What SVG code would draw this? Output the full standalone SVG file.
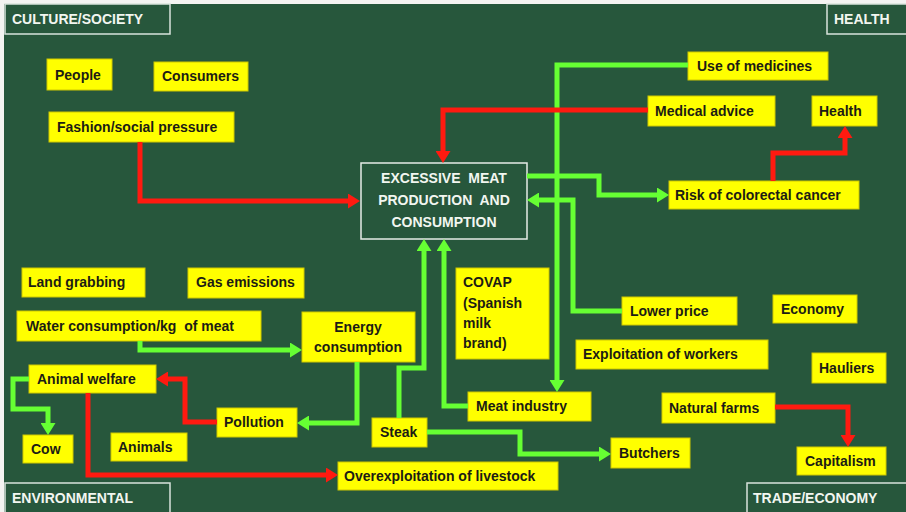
<svg xmlns="http://www.w3.org/2000/svg" width="906" height="512" viewBox="0 0 906 512">
  <style>
    .bg { fill: #27573c; }
    .node rect { fill: #ffff00; stroke: #cfc800; stroke-width: 1; }
    .node text { font-family: "Liberation Sans", Arial, sans-serif; font-weight: bold; font-size: 14px; fill: #1c1c14; }
    .corner rect { fill: #27573c; stroke: #d9e3dc; stroke-width: 1.5; }
    .corner text, .core text { font-family: "Liberation Sans", Arial, sans-serif; font-weight: bold; font-size: 14px; fill: #f2f6f0; }
    .core rect { fill: #27573c; stroke: #e6ece6; stroke-width: 1.5; }
    .red { fill: none; stroke: #ff1a10; stroke-width: 5; marker-end: url(#headRed); }
    .lime { fill: none; stroke: #66ff33; stroke-width: 5; marker-end: url(#headLime); }
  </style>
  <defs>
    <marker id="headRed" markerUnits="userSpaceOnUse" markerWidth="12" markerHeight="15" refX="4" refY="7.5" orient="auto">
      <path d="M0,0 L12,7.5 L0,15 z" fill="#ff1a10"/>
    </marker>
    <marker id="headLime" markerUnits="userSpaceOnUse" markerWidth="12" markerHeight="15" refX="4" refY="7.5" orient="auto">
      <path d="M0,0 L12,7.5 L0,15 z" fill="#66ff33"/>
    </marker>
  </defs>

  <!-- board -->
  <rect x="0" y="0" width="906" height="512" fill="#f4f4f2"/>
  <rect class="bg" x="4" y="4" width="902" height="508"/>

  <!-- quadrant labels -->
  <g id="label-culture" class="corner"><rect x="5" y="4" width="165" height="30"/><text x="12" y="24">CULTURE/SOCIETY</text></g>
  <g id="label-health" class="corner"><rect x="827" y="4" width="82" height="30"/><text x="834" y="24">HEALTH</text></g>
  <g id="label-environmental" class="corner"><rect x="5" y="483" width="165" height="32"/><text x="12" y="503">ENVIRONMENTAL</text></g>
  <g id="label-trade" class="corner"><rect x="747" y="483" width="162" height="32"/><text x="753" y="503">TRADE/ECONOMY</text></g>

  <!-- central issue -->
  <g id="excessive-meat" class="core">
    <rect x="361" y="163" width="166" height="76"/>
    <text x="444" y="183" text-anchor="middle" xml:space="preserve">EXCESSIVE  MEAT</text>
    <text x="444" y="205" text-anchor="middle" xml:space="preserve">PRODUCTION  AND</text>
    <text x="444" y="227" text-anchor="middle">CONSUMPTION</text>
  </g>

  <!-- culture / society -->
  <g id="people" class="node"><rect x="47" y="59" width="65" height="31"/><text x="55" y="80">People</text></g>
  <g id="consumers" class="node"><rect x="154" y="62" width="94" height="29"/><text x="162" y="81">Consumers</text></g>
  <g id="fashion" class="node"><rect x="49" y="112" width="185" height="30"/><text x="57" y="132">Fashion/social pressure</text></g>

  <!-- health -->
  <g id="use-of-medicines" class="node"><rect x="688" y="52" width="140" height="28"/><text x="697" y="71">Use of medicines</text></g>
  <g id="medical-advice" class="node"><rect x="648" y="96" width="127" height="30"/><text x="655" y="116">Medical advice</text></g>
  <g id="health" class="node"><rect x="812" y="96" width="65" height="30"/><text x="819" y="116">Health</text></g>
  <g id="risk-colorectal" class="node"><rect x="669" y="181" width="190" height="28"/><text x="675" y="200">Risk of colorectal cancer</text></g>

  <!-- environmental -->
  <g id="land-grabbing" class="node"><rect x="22" y="268" width="123" height="29"/><text x="28" y="287">Land grabbing</text></g>
  <g id="gas-emissions" class="node"><rect x="188" y="268" width="116" height="30"/><text x="196" y="287">Gas emissions</text></g>
  <g id="water-consumption" class="node"><rect x="17" y="311" width="244" height="30"/><text x="26" y="331" xml:space="preserve">Water consumption/kg  of meat</text></g>
  <g id="energy-consumption" class="node"><rect x="302" y="312" width="113" height="50"/><text x="358" y="332" text-anchor="middle">Energy</text><text x="358" y="352" text-anchor="middle">consumption</text></g>
  <g id="animal-welfare" class="node"><rect x="29" y="365" width="127" height="28"/><text x="37" y="384">Animal welfare</text></g>
  <g id="pollution" class="node"><rect x="217" y="408" width="80" height="29"/><text x="224" y="427">Pollution</text></g>
  <g id="cow" class="node"><rect x="23" y="435" width="50" height="28"/><text x="31" y="454">Cow</text></g>
  <g id="animals" class="node"><rect x="111" y="433" width="76" height="28"/><text x="118" y="452">Animals</text></g>

  <!-- industry / trade -->
  <g id="covap" class="node"><rect x="456" y="268" width="93" height="91"/>
    <text x="463" y="287">COVAP</text><text x="463" y="308">(Spanish</text><text x="463" y="328">milk</text><text x="463" y="348">brand)</text></g>
  <g id="steak" class="node"><rect x="372" y="418" width="55" height="29"/><text x="380" y="437">Steak</text></g>
  <g id="meat-industry" class="node"><rect x="468" y="392" width="123" height="29"/><text x="476" y="411">Meat industry</text></g>
  <g id="overexploitation" class="node"><rect x="338" y="462" width="220" height="28"/><text x="344" y="481">Overexploitation of livestock</text></g>
  <g id="butchers" class="node"><rect x="611" y="438" width="79" height="30"/><text x="619" y="458">Butchers</text></g>
  <g id="lower-price" class="node"><rect x="622" y="297" width="115" height="28"/><text x="630" y="316">Lower price</text></g>
  <g id="economy" class="node"><rect x="773" y="295" width="84" height="28"/><text x="781" y="314">Economy</text></g>
  <g id="exploitation-workers" class="node"><rect x="576" y="340" width="192" height="29"/><text x="583" y="359">Exploitation of workers</text></g>
  <g id="hauliers" class="node"><rect x="812" y="353" width="74" height="30"/><text x="819" y="373">Hauliers</text></g>
  <g id="natural-farms" class="node"><rect x="662" y="393" width="113" height="30"/><text x="669" y="413">Natural farms</text></g>
  <g id="capitalism" class="node"><rect x="797" y="447" width="89" height="28"/><text x="805" y="466">Capitalism</text></g>

  <!-- connectors -->
  <g id="connectors">
    <path class="lime" d="M688,65 H557 V384"/>
    <path class="red" d="M140,142 V201 H352"/>
    <path class="red" d="M648,110 H443 V155"/>
    <path class="red" d="M773,181 V153 H845 V134"/>
    <path class="red" d="M217,422 H185 V379 H164"/>
    <path class="red" d="M88,393 V475 H330"/>
    <path class="red" d="M775,407 H848 V439"/>
    <path class="lime" d="M527,176 H599 V195 H661"/>
    <path class="lime" d="M622,311 H573 V200 H535"/>
    <path class="lime" d="M140,341 V350 H294"/>
    <path class="lime" d="M357,362 V423 H305"/>
    <path class="lime" d="M29,379 H13 V409 H48 V427"/>
    <path class="lime" d="M399,418 V368 H424 V247"/>
    <path class="lime" d="M468,406 H444 V247"/>
    <path class="lime" d="M427,432 H520 V454 H603"/>
  </g>
</svg>
